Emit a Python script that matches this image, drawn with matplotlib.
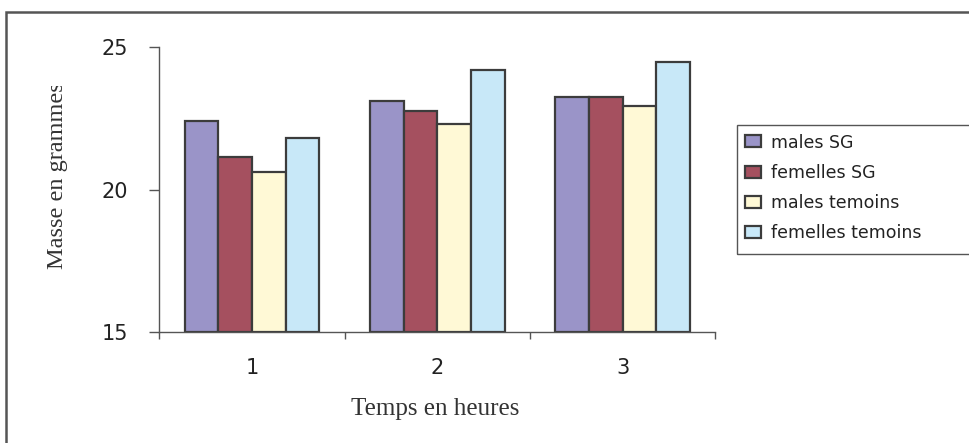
import matplotlib
matplotlib.use("Agg")
import matplotlib.pyplot as plt
from matplotlib.patches import Rectangle
from matplotlib.transforms import Bbox
import numpy as np

# Data: body mass (g) per time point
time_points = ["1", "2", "3"]
series_names = ["males SG", "femelles SG", "males temoins", "femelles temoins"]
males_sg = [22.4, 23.1, 23.25]
femelles_sg = [21.15, 22.75, 23.25]
males_temoins = [20.6, 22.3, 22.95]
femelles_temoins = [21.8, 24.2, 24.5]
y_ticks = [15, 20, 25]

series_values = [males_sg, femelles_sg, males_temoins, femelles_temoins]
colors = ["#9A94C8", "#A5505F", "#FFF9D6", "#C8E8F8"]
edge = "#3C3C3C"

W, H = 969, 443
fig = plt.figure(figsize=(W / 100, H / 100), dpi=100)

def fx(px):
    return px / W

def fy(py):
    return 1 - py / H

ax = fig.add_axes([fx(159.3), fy(331.7), (715.3 - 159.3) / W, (331.7 - 47.3) / H])

x = np.arange(len(time_points))
bw = 0.182
offsets = (np.arange(4) - 1.5) * bw
handles = []
for vals, off, c, name in zip(series_values, offsets, colors, series_names):
    b = ax.bar(x + off, np.array(vals) - 15, bottom=15, width=bw, color=c,
               edgecolor=edge, linewidth=1.6, label=name, zorder=2)
    handles.append(b)

ax.set_xlim(-0.5, 2.5)
ax.set_ylim(15, 25)

for s in ["top", "right"]:
    ax.spines[s].set_visible(False)
for s in ["left", "bottom"]:
    ax.spines[s].set_color("#555555")
    ax.spines[s].set_linewidth(1.0)

ax.set_yticks(y_ticks)
ax.set_yticklabels([str(v) for v in y_ticks], fontsize=15, color="#222222",
                   family="DejaVu Sans")
ax.tick_params(axis="y", direction="out", length=7.2, width=1.0, color="#555555", pad=15)

ax.set_xticks([-0.5, 0.5, 1.5, 2.5])
ax.set_xticklabels([])
ax.tick_params(axis="x", which="major", direction="out", length=5, width=1.0, color="#555555")
ax.set_xticks(x, minor=True)
ax.set_xticklabels(time_points, minor=True, fontsize=15, color="#222222",
                   family="DejaVu Sans")
ax.tick_params(axis="x", which="minor", length=0, pad=19)

# Axis titles
fig.text(fx(435), fy(415), "Temps en heures", ha="center", va="baseline",
         fontsize=18, family="Liberation Serif", color="#333333")
yl = fig.text(fx(58), fy(176), "Masse en grammes", ha="center", va="center",
              rotation=90, fontsize=17.5, family="Liberation Serif", color="#333333")
yl.set_clip_box(Bbox.from_extents(0, 0, W, H - 86))
yl.set_clip_on(True)

# Legend
leg = fig.legend(handles=handles, labels=series_names, loc="upper left",
                 bbox_to_anchor=(fx(745), fy(133.5)), frameon=False,
                 prop={"family": "DejaVu Sans", "size": 12.5},
                 handlelength=0.95, handleheight=0.68, handletextpad=0.55,
                 labelspacing=0.705, borderpad=0, borderaxespad=0)
for t in leg.get_texts():
    t.set_color("#222222")

# Legend box and outer chart frame
fig.patches.append(Rectangle((fx(737), fy(254)), fx(300), (254 - 125) / H,
                             transform=fig.transFigure, fill=False,
                             edgecolor="#555555", linewidth=1.0))
fig.patches.append(Rectangle((fx(6), fy(600)), fx(1100), (600 - 12) / H,
                             transform=fig.transFigure, fill=False,
                             edgecolor="#555555", linewidth=1.8))

fig.savefig("out.png", dpi=100)
